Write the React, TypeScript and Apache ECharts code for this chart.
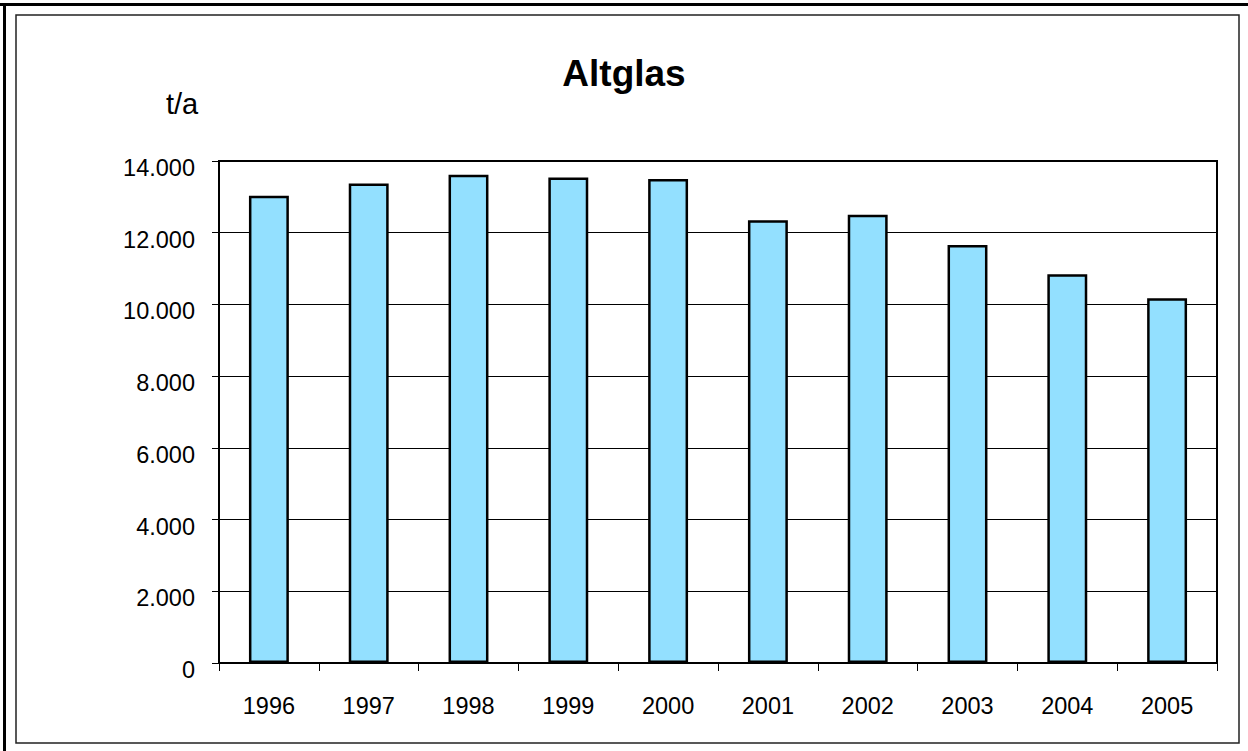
import React, { useEffect, useRef } from "react";
import * as echarts from "echarts";

const years = ["1996", "1997", "1998", "1999", "2000", "2001", "2002", "2003", "2004", "2005"];
const altglas = [13030, 13370, 13620, 13540, 13500, 12350, 12500, 11660, 10840, 10170];
const yTicks = { min: 0, max: 14000, interval: 2000 };

const fmt = (v: number) => (v === 0 ? "0" : String(v).replace(/\B(?=(\d{3})+(?!\d))/g, "."));

export default function App() {
  const ref = useRef<HTMLDivElement>(null);
  useEffect(() => {
    if (!ref.current) return;
    const chart = echarts.init(ref.current, null, { renderer: "svg" });
    chart.setOption({
      animation: false,
      backgroundColor: "#ffffff",
      textStyle: { fontFamily: "Arial, 'Liberation Sans', sans-serif" },
      title: {
        text: "Altglas",
        left: "center",
        top: 50,
        textStyle: { fontSize: 37, fontWeight: "bold", color: "#000", fontFamily: "Arial, 'Liberation Sans', sans-serif" },
      },
      graphic: [
        { type: "rect", shape: { x: 0, y: 3, width: 1248, height: 3 }, style: { fill: "#000" }, silent: true },
        { type: "rect", shape: { x: 3, y: 3, width: 3, height: 748 }, style: { fill: "#000" }, silent: true },
        {
          type: "rect",
          shape: { x: 16, y: 15, width: 1223, height: 728 },
          style: { fill: "none", stroke: "#222", lineWidth: 1.5 },
          silent: true,
        },
        {
          type: "text",
          left: 166,
          top: 89,
          style: { text: "t/a", fontSize: 29, fill: "#000", fontFamily: "Arial, 'Liberation Sans', sans-serif" },
        },
      ],
      grid: {
        left: 219,
        right: 31,
        top: 161,
        bottom: 88,
        show: true,
        borderColor: "#000",
        borderWidth: 2,
        backgroundColor: "transparent",
      },
      xAxis: {
        type: "category",
        data: years,
        boundaryGap: true,
        axisLine: { show: true, lineStyle: { color: "#000", width: 2 } },
        axisTick: { show: true, alignWithLabel: false, length: 8, lineStyle: { color: "#000", width: 1 } },
        axisLabel: { color: "#000", fontSize: 23.5, margin: 31 },
      },
      yAxis: {
        type: "value",
        min: yTicks.min,
        max: yTicks.max,
        interval: yTicks.interval,
        axisLine: { show: true, lineStyle: { color: "#000", width: 2 } },
        axisTick: { show: true, length: 7, lineStyle: { color: "#000", width: 1 } },
        axisLabel: {
          color: "#000",
          fontSize: 23.5,
          margin: 24,
          verticalAlign: "top",
          lineHeight: 14,
          formatter: (v: number) => fmt(v),
        },
        splitLine: { show: true, lineStyle: { color: "#000", width: 1 } },
      },
      series: [
        {
          type: "bar",
          data: altglas,
          barWidth: "40%",
          itemStyle: { color: "#93E0FF", borderColor: "#000", borderWidth: 2.5 },
        },
      ],
    });
    return () => chart.dispose();
  }, []);
  return <div ref={ref} style={{ position: "absolute", left: 0, top: 0, width: 1248, height: 751 }} />;
}
